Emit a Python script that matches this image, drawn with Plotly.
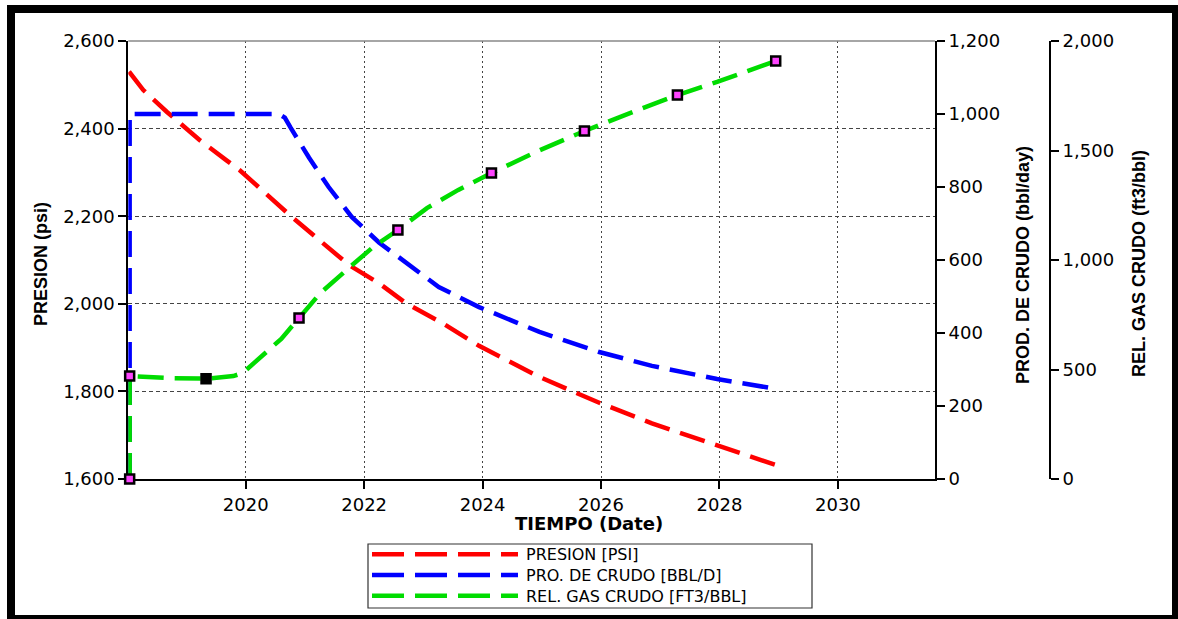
import plotly.graph_objects as go

# ---------------- data ----------------
pres_years = [2018.03, 2018.27, 2018.67, 2019.22, 2019.67, 2019.90, 2020.78, 2021.74,
              2022.25, 2022.70, 2023.32, 2023.94, 2024.96, 2025.97, 2026.86, 2027.96, 2028.95]
pres_psi = [2530, 2488, 2438, 2374, 2328, 2305, 2198, 2089,
            2047, 2002, 1956, 1904, 1833, 1774, 1727, 1678, 1632]

prod_years = [2018.04, 2018.04, 2020.56, 2020.66, 2020.76, 2021.07, 2021.40, 2021.79,
              2022.25, 2022.70, 2023.26, 2023.94, 2024.96, 2025.97, 2026.86, 2027.96, 2028.95]
prod_bbl = [0, 1000, 1000, 990, 962, 880, 800, 718,
            648, 595, 526, 471, 403, 348, 310, 274, 247]

gor_years = [2018.04, 2018.04, 2018.67, 2019.33, 2019.79, 2019.95, 2020.60, 2020.90, 2021.26,
             2021.76, 2022.15, 2022.57, 2023.06, 2023.59, 2024.15, 2024.97, 2025.72, 2026.66,
             2027.29, 2027.96, 2028.95]
gor_ft3 = [0, 470, 461, 458, 470, 484, 640, 735, 849,
           968, 1059, 1137, 1237, 1320, 1397, 1502, 1589, 1689,
           1753, 1813, 1909]

mark_years = [2018.04, 2018.04, 2019.33, 2020.90, 2022.57, 2024.15, 2025.72, 2027.29, 2028.95]
mark_gor = [0, 470, 458, 735, 1137, 1397, 1589, 1753, 1909]

x_ticks = [2020, 2022, 2024, 2026, 2028, 2030]
names = ["PRESION [PSI]", "PRO. DE CRUDO [BBL/D]", "REL. GAS CRUDO [FT3/BBL]"]
colors = ["#ff0000", "#0000ff", "#00dc00"]

# ---------------- layout helpers ----------------
W, H = 1178, 619
def px(x):
    return x / W
def py(y):
    return 1 - y / H

mark_colors = ["#ff44ff", "#ff44ff", "#000000", "#ff44ff", "#ff44ff", "#ff44ff",
               "#ff44ff", "#ff44ff", "#ff44ff"]
DASH = "26px,11px"
TICKFONT = dict(family="DejaVu Sans", size=18, color="black")
TITLEFONT = dict(family="Liberation Sans", size=18, color="black")

fig = go.Figure()
fig.add_trace(go.Scatter(x=pres_years, y=pres_psi, name=names[0], mode="lines",
                         line=dict(color=colors[0], width=4.5, dash=DASH), yaxis="y"))
fig.add_trace(go.Scatter(x=prod_years, y=prod_bbl, name=names[1], mode="lines",
                         line=dict(color=colors[1], width=4.5, dash=DASH), yaxis="y2"))
fig.add_trace(go.Scatter(x=gor_years, y=gor_ft3, name=names[2], mode="lines",
                         line=dict(color=colors[2], width=4.5, dash=DASH), yaxis="y3"))
fig.add_trace(go.Scatter(x=mark_years, y=mark_gor, mode="markers", showlegend=False,
                         cliponaxis=False, yaxis="y3",
                         marker=dict(symbol="square", size=9, color=mark_colors,
                                     line=dict(color="black", width=2.5))))

axis_common = dict(ticks="outside", ticklen=8, tickwidth=2, tickcolor="black",
                   showline=True, linecolor="black", linewidth=2, zeroline=False,
                   tickfont=TICKFONT, layer="below traces", fixedrange=True,
                   automargin=False)

# ---------------- legend drawn as a box (kept inside the page) ----------------
LEG_FONT = 16
leg_center = 575
leg_step = LEG_FONT * 1.3
leg_rows = [leg_center - leg_step, leg_center, leg_center + leg_step]
leg_box = (368, 544, 812, 608)
shapes = [
    dict(type="line", xref="paper", yref="paper", x0=px(128.3), x1=px(935),
         y0=py(41), y1=py(41), line=dict(color="#888", width=1.5)),
    dict(type="rect", xref="paper", yref="paper", x0=px(leg_box[0]), x1=px(leg_box[2]),
         y0=py(leg_box[3]), y1=py(leg_box[1]), line=dict(color="#333", width=1.2),
         fillcolor="white", layer="above"),
    dict(type="rect", xref="paper", yref="paper", x0=px(11), x1=px(1176),
         y0=py(619), y1=py(9), line=dict(color="black", width=8),
         fillcolor="rgba(0,0,0,0)", layer="above"),
]
for col, ry in zip(colors, leg_rows):
    shapes.append(dict(type="line", xref="paper", yref="paper", x0=px(372), x1=px(518),
                       y0=py(ry), y1=py(ry), layer="above",
                       line=dict(color=col, width=4.5, dash="32px,11px")))

annotations = [
    dict(text="<b>PRESION (psi)</b>", xref="paper", yref="paper", x=px(41), y=py(264),
         textangle=-90, showarrow=False, font=TITLEFONT, xanchor="center", yanchor="middle"),
    dict(text="<b>PROD. DE CRUDO (bbl/day)</b>", xref="paper", yref="paper", x=px(1023),
         y=py(265), textangle=-90, showarrow=False, font=TITLEFONT,
         xanchor="center", yanchor="middle"),
    dict(text="<b>REL. GAS CRUDO (ft3/bbl)</b>", xref="paper", yref="paper", x=px(1139),
         y=py(264), textangle=-90, showarrow=False, font=TITLEFONT,
         xanchor="center", yanchor="middle"),
    dict(text="<b>TIEMPO (Date)</b>", xref="paper", yref="paper", x=px(589), y=py(523),
         showarrow=False, font=dict(family="DejaVu Sans", size=18, color="black"),
         xanchor="center", yanchor="middle"),
    dict(text="<br>".join(names), xref="paper", yref="paper", x=px(524), y=py(leg_center),
         showarrow=False, xanchor="left", yanchor="middle", align="left",
         font=dict(family="DejaVu Sans", size=LEG_FONT, color="black")),
]

fig.update_layout(
    width=W, height=H, autosize=False,
    margin=dict(l=0, r=0, t=0, b=0, pad=0),
    paper_bgcolor="white", plot_bgcolor="white",
    showlegend=False,
    xaxis=dict(domain=[px(128.3), px(935)], range=[2018.017, 2031.64],
               tickmode="array", tickvals=x_ticks, ticktext=[str(v) for v in x_ticks],
               showgrid=True, gridcolor="#444", gridwidth=1, griddash="2px,3px",
               anchor="y", **axis_common),
    yaxis=dict(domain=[py(479), py(41)], range=[1600, 2600], dtick=200, tick0=1600,
               tickformat=",", showgrid=True, gridcolor="#444", gridwidth=1,
               griddash="4px,3px", anchor="x", **axis_common),
    yaxis2=dict(overlaying="y", side="right", anchor="x", range=[0, 1200], dtick=200,
                tick0=0, tickformat=",", showgrid=False, **axis_common),
    yaxis3=dict(overlaying="y", side="right", anchor="free", position=px(1050),
                range=[0, 2000], dtick=500, tick0=0, tickformat=",", showgrid=False,
                **axis_common),
    shapes=shapes,
    annotations=annotations,
)

fig.write_html("out.html")
